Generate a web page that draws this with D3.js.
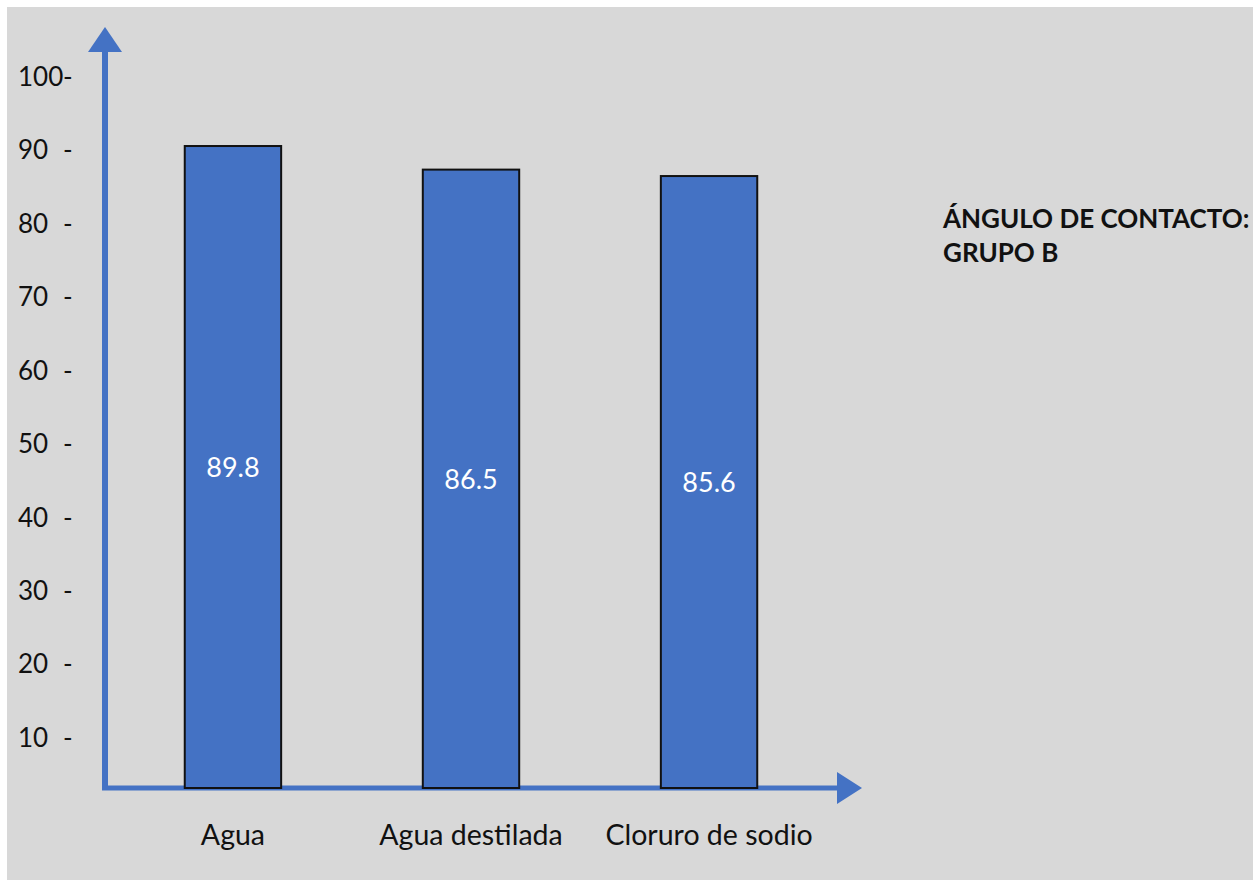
<!DOCTYPE html>
<html>
<head>
<meta charset="utf-8">
<script src="https://cdn.jsdelivr.net/npm/d3@7"></script>
<style>
  html, body { margin: 0; padding: 0; background: #ffffff; }
  svg { display: block; }
  text { font-family: Lato, "Open Sans", "Liberation Sans", sans-serif; }
</style>
</head>
<body>
<svg id="chart" width="1253" height="883"></svg>
<script>
// Contact angle measurements, group B
const categories = ["Agua", "Agua destilada", "Cloruro de sodio"];
const values = [89.8, 86.5, 85.6];
const tickValues = [10, 20, 30, 40, 50, 60, 70, 80, 90, 100];
const tickLabels = ["10", "20", "30", "40", "50", "60", "70", "80", "90", "100"];
const titleLines = ["ÁNGULO DE CONTACTO:", "GRUPO B"];

const W = 1253, H = 883;
const blue = "#4472c4";
const svg = d3.select("#chart");

// grey panel behind the chart
svg.append("rect")
  .attr("x", 7).attr("y", 7)
  .attr("width", W - 7).attr("height", 873)
  .attr("fill", "#d8d8d8");

const axisX = 105;     // vertical axis position
const axisY = 788;     // horizontal axis position
const axisTop = 52;    // base of the upward arrow head
const axisRight = 837; // base of the right arrow head

const x = d3.scaleBand()
  .domain(categories)
  .range([axisX, axisRight])
  .paddingInner(0.595)
  .paddingOuter(0.335);

// bar heights
const y = d3.scaleLinear().domain([0, 100]).range([axisY, 73.1]);
// tick labels sit on their own evenly spaced ruler
const yTick = d3.scaleLinear().domain([10, 100]).range([737.5, 76.5]);

// axes drawn as thick blue arrows
svg.append("line")
  .attr("x1", axisX).attr("x2", axisX)
  .attr("y1", axisY + 2).attr("y2", axisTop)
  .attr("stroke", blue).attr("stroke-width", 6);
svg.append("line")
  .attr("x1", axisX - 3).attr("x2", axisRight)
  .attr("y1", axisY).attr("y2", axisY)
  .attr("stroke", blue).attr("stroke-width", 5);
svg.append("path")
  .attr("d", `M${axisX - 17},${axisTop} L${axisX},${27} L${axisX + 17},${axisTop} Z`)
  .attr("fill", blue);
svg.append("path")
  .attr("d", `M${axisRight},${axisY - 16} L${862},${axisY} L${axisRight},${axisY + 16} Z`)
  .attr("fill", blue);

// bars
svg.append("g").selectAll("rect")
  .data(values)
  .join("rect")
  .attr("x", (d, i) => x(categories[i]))
  .attr("y", d => y(d))
  .attr("width", x.bandwidth())
  .attr("height", d => y(0) - y(d))
  .attr("fill", blue)
  .attr("stroke", "#111")
  .attr("stroke-width", 2);

// value labels in the middle of each bar
svg.append("g").selectAll("text")
  .data(values)
  .join("text")
  .attr("x", (d, i) => x(categories[i]) + x.bandwidth() / 2)
  .attr("y", d => (y(d) + y(0)) / 2)
  .attr("dy", "0.36em")
  .attr("text-anchor", "middle")
  .attr("fill", "#ffffff")
  .attr("font-size", 27)
  .text(d => d.toFixed(1));

// category labels
svg.append("g").selectAll("text")
  .data(categories)
  .join("text")
  .attr("x", d => x(d) + x.bandwidth() / 2)
  .attr("y", 845)
  .attr("text-anchor", "middle")
  .attr("fill", "#111")
  .attr("font-size", 28.5)
  .text(d => d);

// y tick labels with dash marks
const ticks = svg.append("g");
ticks.selectAll("text.num")
  .data(tickValues)
  .join("text")
  .attr("class", "num")
  .attr("x", 18)
  .attr("y", d => yTick(d))
  .attr("dy", "0.36em")
  .attr("fill", "#111")
  .attr("font-size", 26)
  .text((d, i) => tickLabels[i]);
ticks.selectAll("text.dash")
  .data(tickValues)
  .join("text")
  .attr("class", "dash")
  .attr("x", 63)
  .attr("y", d => yTick(d))
  .attr("dy", "0.36em")
  .attr("fill", "#111")
  .attr("font-size", 26)
  .text("-");

// title at the right
svg.append("g").selectAll("text")
  .data(titleLines)
  .join("text")
  .attr("x", 943)
  .attr("y", (d, i) => 228 + i * 34)
  .attr("fill", "#111")
  .attr("font-size", 26)
  .attr("font-weight", "bold")
  .text(d => d);
</script>
</body>
</html>
